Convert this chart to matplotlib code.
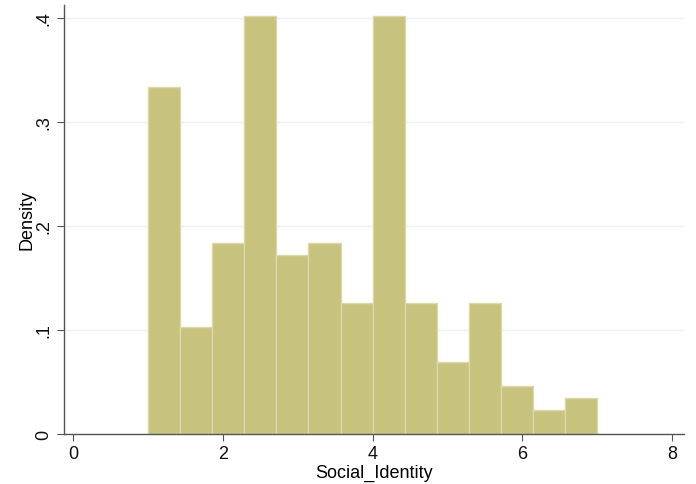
import numpy as np
import matplotlib.pyplot as plt

plt.rcParams['font.family'] = ['Liberation Sans', 'DejaVu Sans']

# histogram of Social_Identity, 14 bins from 1 to 7
bin_start = 1.0
bin_end = 7.0
n_bins = 14
density = [0.333, 0.103, 0.183, 0.402, 0.172, 0.183, 0.126,
           0.402, 0.126, 0.069, 0.126, 0.046, 0.023, 0.034]

x_ticks = [0, 2, 4, 6, 8]
y_ticks = [0, 0.1, 0.2, 0.3, 0.4]
y_tick_labels = ['0', '.1', '.2', '.3', '.4']

edges = np.linspace(bin_start, bin_end, n_bins + 1)
width = edges[1] - edges[0]

fig = plt.figure(figsize=(6.96, 4.85), dpi=100)
ax = fig.add_axes([0.092, 0.104, 0.891, 0.884])

ax.bar(edges[:-1], density, width=width, align='edge',
       color='#c8c27f', edgecolor='#dcd8a8', linewidth=1.0, zorder=2)

ax.set_xlim(-0.12, 8.16)
ax.set_ylim(0, 0.4125)
ax.set_xticks(x_ticks)
ax.set_yticks(y_ticks)
ax.set_yticklabels(y_tick_labels, rotation=90, va='center')
ax.yaxis.grid(True, color='#eaf2f3', linewidth=1.0, zorder=0)
ax.set_axisbelow(True)

for side in ['top', 'right']:
    ax.spines[side].set_visible(False)
for side in ['left', 'bottom']:
    ax.spines[side].set_color('#555555')
    ax.spines[side].set_linewidth(1.0)
ax.tick_params(direction='out', length=5, color='#555555',
               labelsize=13, labelcolor='#111111')

ax.set_xlabel('Social_Identity', fontsize=13, labelpad=1)
ax.set_ylabel('Density', fontsize=13, labelpad=0)

fig.savefig('out.png', dpi=100)
